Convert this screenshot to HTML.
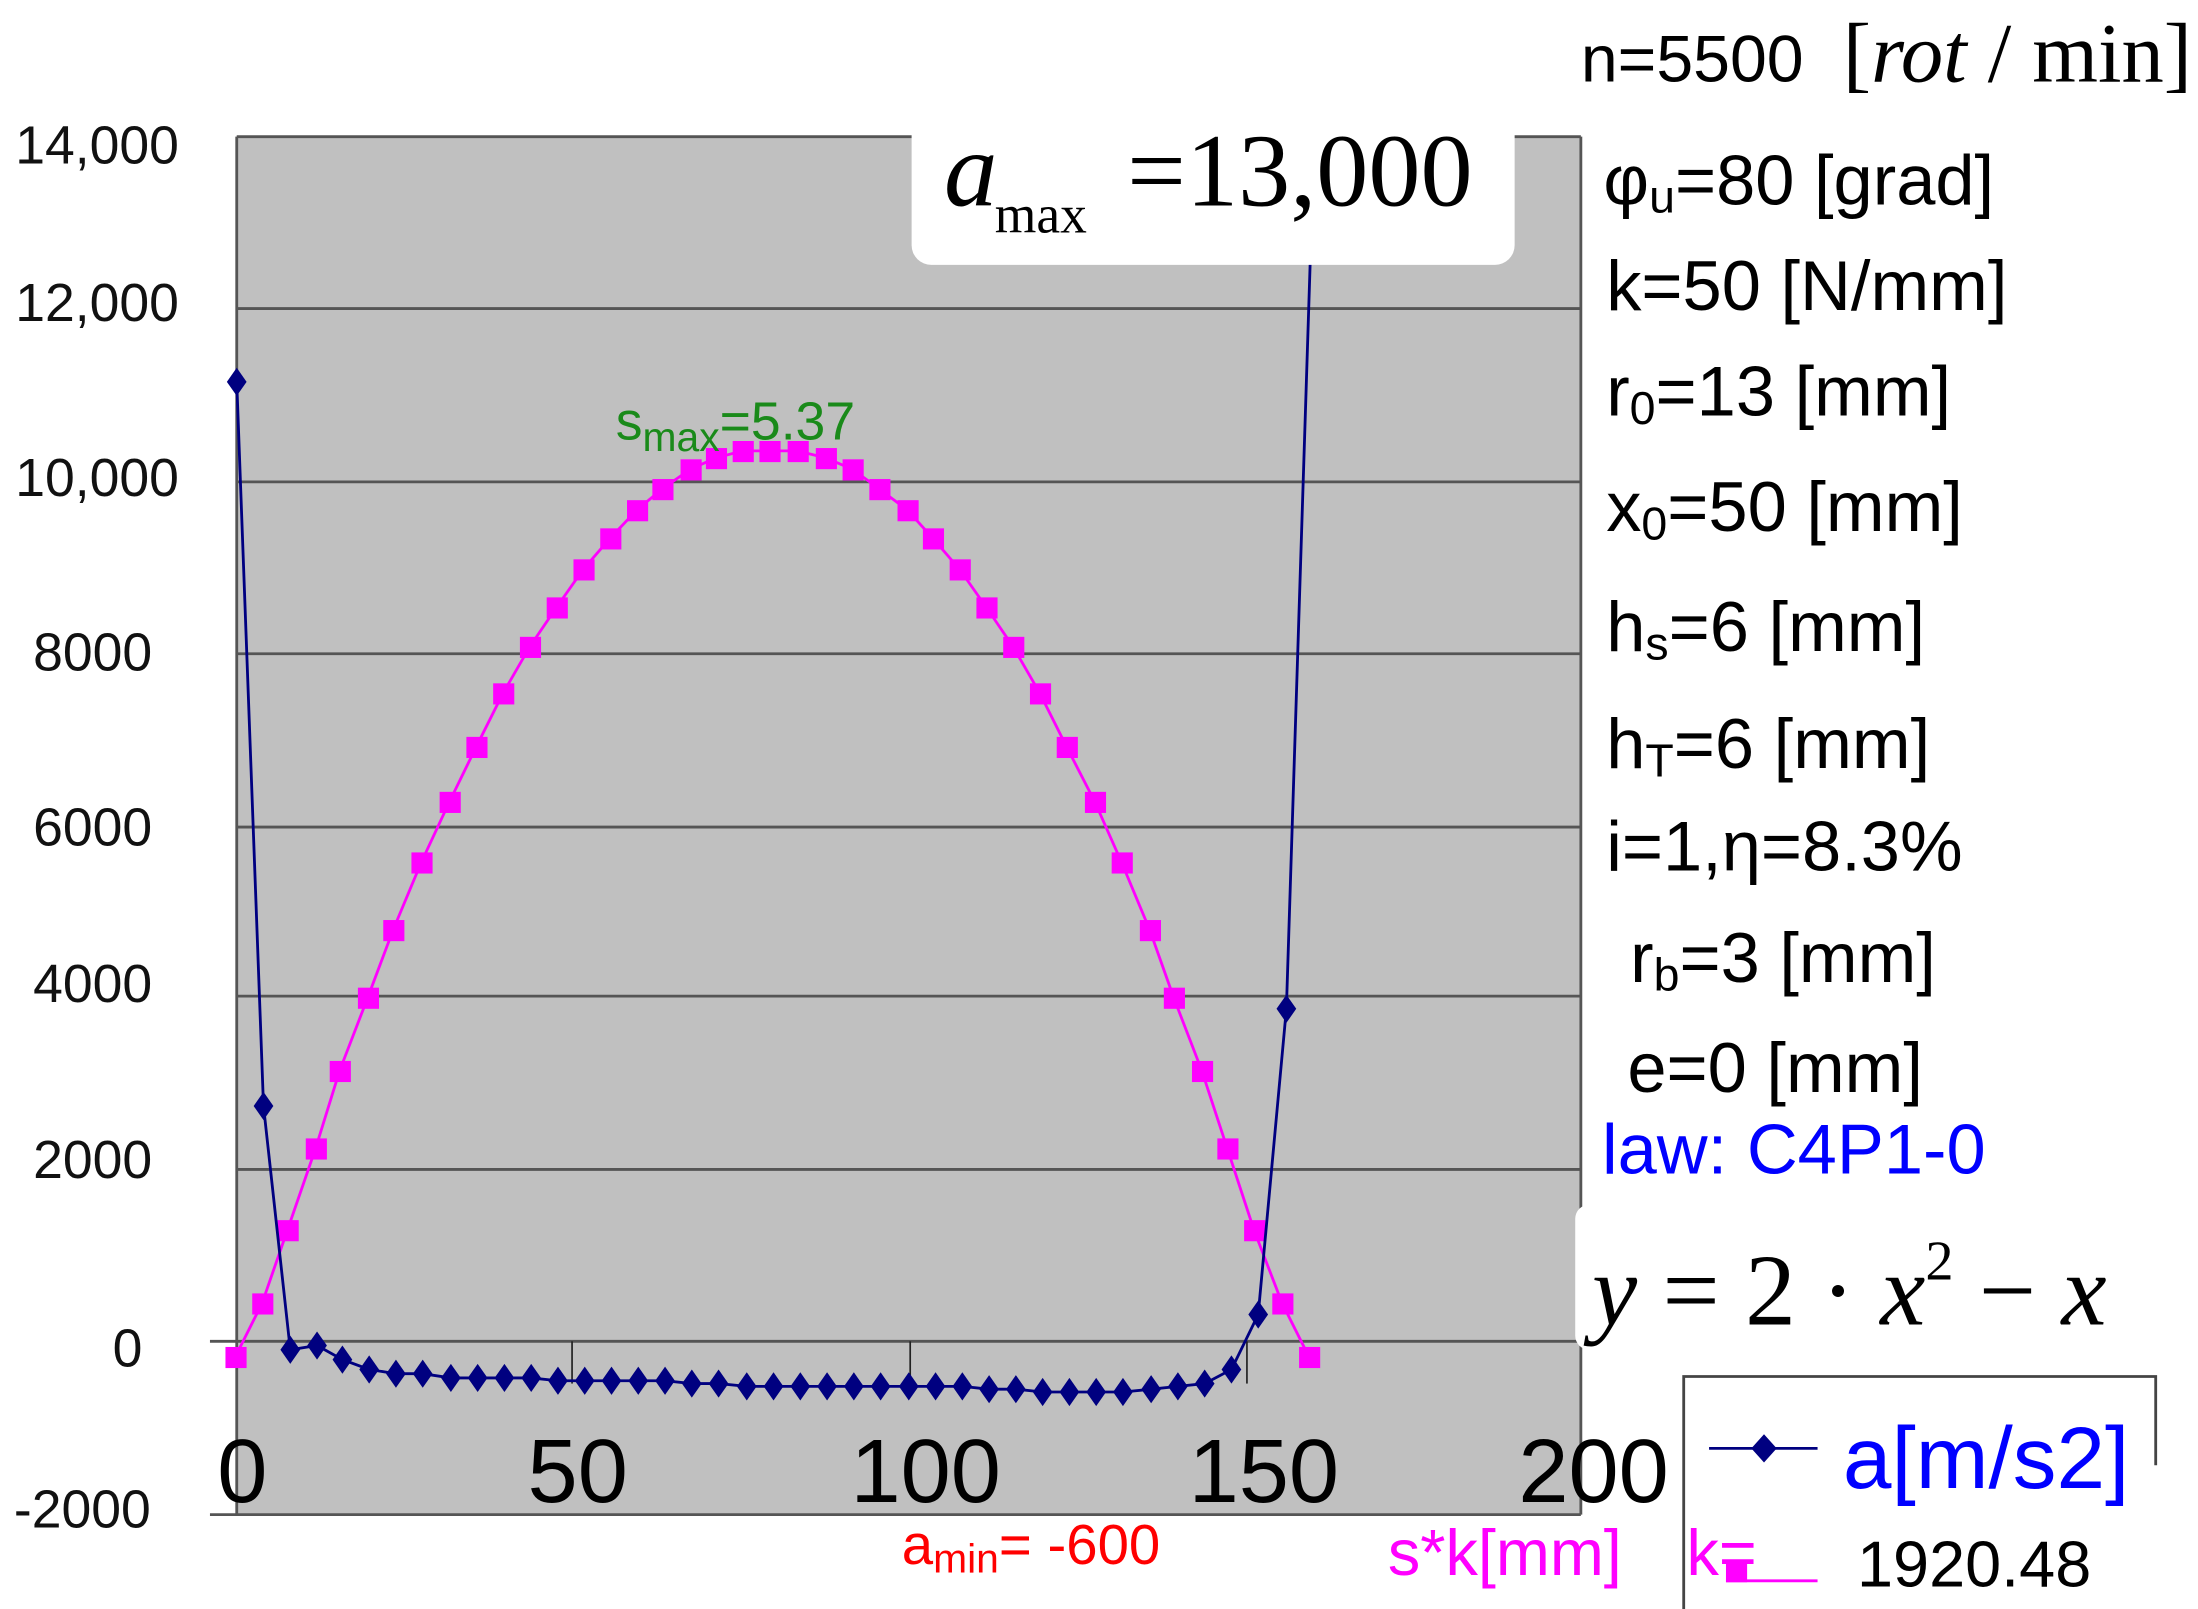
<!DOCTYPE html>
<html><head><meta charset="utf-8"><style>
html,body{margin:0;padding:0;background:#fff;}
svg{display:block;}
</style></head><body>
<svg width="2198" height="1609" viewBox="0 0 1560 1142" xmlns="http://www.w3.org/2000/svg">
<rect x="0" y="0" width="1560" height="1142" fill="#fff"/>
<rect x="168" y="97" width="954" height="978" fill="#c0c0c0"/>
<g stroke="#555" stroke-width="2">
<line x1="168" y1="97" x2="1122" y2="97"/>
<line x1="168" y1="219" x2="1122" y2="219"/>
<line x1="168" y1="342" x2="1122" y2="342"/>
<line x1="168" y1="464" x2="1122" y2="464"/>
<line x1="168" y1="587" x2="1122" y2="587"/>
<line x1="168" y1="707" x2="1122" y2="707"/>
<line x1="168" y1="830" x2="1122" y2="830"/>
<line x1="149" y1="952" x2="1122" y2="952"/>
<line x1="149" y1="1075" x2="1122" y2="1075"/>
<line x1="168" y1="97" x2="168" y2="1075"/>
<line x1="1122" y1="97" x2="1122" y2="1075"/>
</g>
<g stroke="#222" stroke-width="1.2">
<line x1="406" y1="952" x2="406" y2="982"/>
<line x1="646" y1="952" x2="646" y2="982"/>
<line x1="885" y1="952" x2="885" y2="982"/>
</g>
<g font-family="Liberation Sans, sans-serif" font-size="38" fill="#111" text-anchor="end">
<text x="127" y="116">14,000</text>
<text x="127" y="228">12,000</text>
<text x="127" y="352">10,000</text>
<text x="108" y="476">8000</text>
<text x="108" y="600">6000</text>
<text x="108" y="711">4000</text>
<text x="108" y="836">2000</text>
<text x="101" y="970">0</text>
<text x="107" y="1084">-2000</text>
</g>
<g font-family="Liberation Sans, sans-serif" font-size="64" fill="#000" text-anchor="middle">
<text x="172" y="1066">0</text>
<text x="410" y="1066">50</text>
<text x="657" y="1066">100</text>
<text x="897" y="1066">150</text>
<text x="1131" y="1066">200</text>
</g>
<polyline fill="none" stroke="#ff00ff" stroke-width="2" points="167,963 186,925 204,873 224,815 241,760 261,708 279,660 299,612 319,569 338,530 357,492 376,459 395,431 414,404 433,382 452,362 470,347 490,333 508,325 527,320 546,320 566,320 586,325 605,333 624,347 644,362 662,382 681,404 700,431 719,459 738,492 757,530 777,569 796,612 816,660 833,708 853,760 871,815 890,873 910,925 929,963"/>
<g fill="#ff00ff">
<rect x="160" y="956" width="15" height="15"/><rect x="179" y="918" width="15" height="15"/><rect x="197" y="866" width="15" height="15"/><rect x="217" y="808" width="15" height="15"/><rect x="234" y="753" width="15" height="15"/><rect x="254" y="701" width="15" height="15"/><rect x="272" y="653" width="15" height="15"/><rect x="292" y="605" width="15" height="15"/><rect x="312" y="562" width="15" height="15"/><rect x="331" y="523" width="15" height="15"/><rect x="350" y="485" width="15" height="15"/><rect x="369" y="452" width="15" height="15"/><rect x="388" y="424" width="15" height="15"/><rect x="407" y="397" width="15" height="15"/><rect x="426" y="375" width="15" height="15"/><rect x="445" y="355" width="15" height="15"/><rect x="463" y="340" width="15" height="15"/><rect x="483" y="326" width="15" height="15"/><rect x="501" y="318" width="15" height="15"/><rect x="520" y="313" width="15" height="15"/><rect x="539" y="313" width="15" height="15"/><rect x="559" y="313" width="15" height="15"/><rect x="579" y="318" width="15" height="15"/><rect x="598" y="326" width="15" height="15"/><rect x="617" y="340" width="15" height="15"/><rect x="637" y="355" width="15" height="15"/><rect x="655" y="375" width="15" height="15"/><rect x="674" y="397" width="15" height="15"/><rect x="693" y="424" width="15" height="15"/><rect x="712" y="452" width="15" height="15"/><rect x="731" y="485" width="15" height="15"/><rect x="750" y="523" width="15" height="15"/><rect x="770" y="562" width="15" height="15"/><rect x="789" y="605" width="15" height="15"/><rect x="809" y="653" width="15" height="15"/><rect x="826" y="701" width="15" height="15"/><rect x="846" y="753" width="15" height="15"/><rect x="864" y="808" width="15" height="15"/><rect x="883" y="866" width="15" height="15"/><rect x="903" y="918" width="15" height="15"/><rect x="922" y="956" width="15" height="15"/>
</g>
<polyline fill="none" stroke="#000080" stroke-width="2" points="168,271 187,785 206,958 225,955 243,965 262,972 281,975 300,975 320,978 339,978 358,978 377,978 396,980 415,980 434,980 453,980 472,980 491,982 510,982 530,984 549,984 568,984 587,984 606,984 625,984 645,984 664,984 683,984 702,986 721,986 740,988 759,988 778,988 797,988 817,986 836,984 855,982 874,972 893,933 913,716 932,120"/>
<g fill="#000080">
<path d="M168,261l7,10l-7,10l-7,-10z"/><path d="M187,775l7,10l-7,10l-7,-10z"/><path d="M206,948l7,10l-7,10l-7,-10z"/><path d="M225,945l7,10l-7,10l-7,-10z"/><path d="M243,955l7,10l-7,10l-7,-10z"/><path d="M262,962l7,10l-7,10l-7,-10z"/><path d="M281,965l7,10l-7,10l-7,-10z"/><path d="M300,965l7,10l-7,10l-7,-10z"/><path d="M320,968l7,10l-7,10l-7,-10z"/><path d="M339,968l7,10l-7,10l-7,-10z"/><path d="M358,968l7,10l-7,10l-7,-10z"/><path d="M377,968l7,10l-7,10l-7,-10z"/><path d="M396,970l7,10l-7,10l-7,-10z"/><path d="M415,970l7,10l-7,10l-7,-10z"/><path d="M434,970l7,10l-7,10l-7,-10z"/><path d="M453,970l7,10l-7,10l-7,-10z"/><path d="M472,970l7,10l-7,10l-7,-10z"/><path d="M491,972l7,10l-7,10l-7,-10z"/><path d="M510,972l7,10l-7,10l-7,-10z"/><path d="M530,974l7,10l-7,10l-7,-10z"/><path d="M549,974l7,10l-7,10l-7,-10z"/><path d="M568,974l7,10l-7,10l-7,-10z"/><path d="M587,974l7,10l-7,10l-7,-10z"/><path d="M606,974l7,10l-7,10l-7,-10z"/><path d="M625,974l7,10l-7,10l-7,-10z"/><path d="M645,974l7,10l-7,10l-7,-10z"/><path d="M664,974l7,10l-7,10l-7,-10z"/><path d="M683,974l7,10l-7,10l-7,-10z"/><path d="M702,976l7,10l-7,10l-7,-10z"/><path d="M721,976l7,10l-7,10l-7,-10z"/><path d="M740,978l7,10l-7,10l-7,-10z"/><path d="M759,978l7,10l-7,10l-7,-10z"/><path d="M778,978l7,10l-7,10l-7,-10z"/><path d="M797,978l7,10l-7,10l-7,-10z"/><path d="M817,976l7,10l-7,10l-7,-10z"/><path d="M836,974l7,10l-7,10l-7,-10z"/><path d="M855,972l7,10l-7,10l-7,-10z"/><path d="M874,962l7,10l-7,10l-7,-10z"/><path d="M893,923l7,10l-7,10l-7,-10z"/><path d="M913,706l7,10l-7,10l-7,-10z"/>
</g>
<rect x="647" y="60" width="428" height="128" rx="14" fill="#fff"/>
<rect x="647" y="60" width="428" height="30" fill="#fff"/>
<text x="670" y="146" font-family="Liberation Serif, serif" font-size="76" font-style="italic" fill="#000">a</text>
<text x="706" y="165" font-family="Liberation Serif, serif" font-size="38" fill="#000">max</text>
<text x="800" y="146" font-family="Liberation Serif, serif" font-size="74" fill="#000">=13,000</text>
<text x="437" y="312" font-family="Liberation Sans, sans-serif" font-size="38" fill="#1a8a1a">s<tspan font-size="29" dy="8">max</tspan><tspan dy="-8">=5.37</tspan></text>
<text x="640" y="1110" font-family="Liberation Sans, sans-serif" font-size="40" fill="#ff0000">a<tspan font-size="29" dy="6">min</tspan><tspan dy="-6">= -600</tspan></text>
<text x="985" y="1118" font-family="Liberation Sans, sans-serif" font-size="46" fill="#ff00ff">s*k[mm]</text>
<text x="1197" y="1118" font-family="Liberation Sans, sans-serif" font-size="46" fill="#ff00ff">k=</text>
<g font-family="Liberation Sans, sans-serif" fill="#000">
<text x="1122" y="58" font-size="47">n=5500</text>
<text x="1308" y="58" font-family="Liberation Serif, serif" font-size="60">[<tspan font-style="italic">rot</tspan> / min]</text>
<text x="1138" y="145" font-size="50">φ<tspan font-size="33" dy="6">u</tspan><tspan dy="-6">=80 [grad]</tspan></text>
<text x="1140" y="220" font-size="50">k=50 [N/mm]</text>
<text x="1140" y="295" font-size="50">r<tspan font-size="33" dy="6">0</tspan><tspan dy="-6">=13 [mm]</tspan></text>
<text x="1140" y="377" font-size="50">x<tspan font-size="33" dy="6">0</tspan><tspan dy="-6">=50 [mm]</tspan></text>
<text x="1140" y="462" font-size="50">h<tspan font-size="33" dy="6">s</tspan><tspan dy="-6">=6 [mm]</tspan></text>
<text x="1140" y="545" font-size="50">h<tspan font-size="33" dy="6">T</tspan><tspan dy="-6">=6 [mm]</tspan></text>
<text x="1140" y="618" font-size="50">i=1,η=8.3%</text>
<text x="1157" y="697" font-size="50">r<tspan font-size="33" dy="6">b</tspan><tspan dy="-6">=3 [mm]</tspan></text>
<text x="1155" y="775" font-size="50">e=0 [mm]</text>
<text x="1137" y="833" font-size="50" fill="#0000ff">law: C4P1-0</text>
</g>
<rect x="1118" y="855" width="442" height="103" rx="10" fill="#fff"/>
<text x="1130" y="940" font-family="Liberation Serif, serif" font-size="72" fill="#000"><tspan font-style="italic">y</tspan> = 2 · <tspan font-style="italic">x</tspan><tspan font-size="40" dy="-32">2</tspan><tspan dy="32"> − </tspan><tspan font-style="italic">x</tspan></text>
<path d="M1195,1142 V977 H1530 V1040" fill="none" stroke="#444" stroke-width="2"/>
<line x1="1213" y1="1028" x2="1290" y2="1028" stroke="#000080" stroke-width="2"/>
<path d="M1252,1018l9,10l-9,10l-9,-10z" fill="#000080"/>
<text x="1308" y="1056" font-family="Liberation Sans, sans-serif" font-size="62" fill="#0000ff">a[m/s2]</text>
<line x1="1225" y1="1122" x2="1290" y2="1122" stroke="#ff00ff" stroke-width="2"/>
<rect x="1225" y="1108" width="15" height="15" fill="#ff00ff"/>
<text x="1318" y="1126" font-family="Liberation Sans, sans-serif" font-size="46" fill="#000">1920.48</text>
</svg>
</body></html>
